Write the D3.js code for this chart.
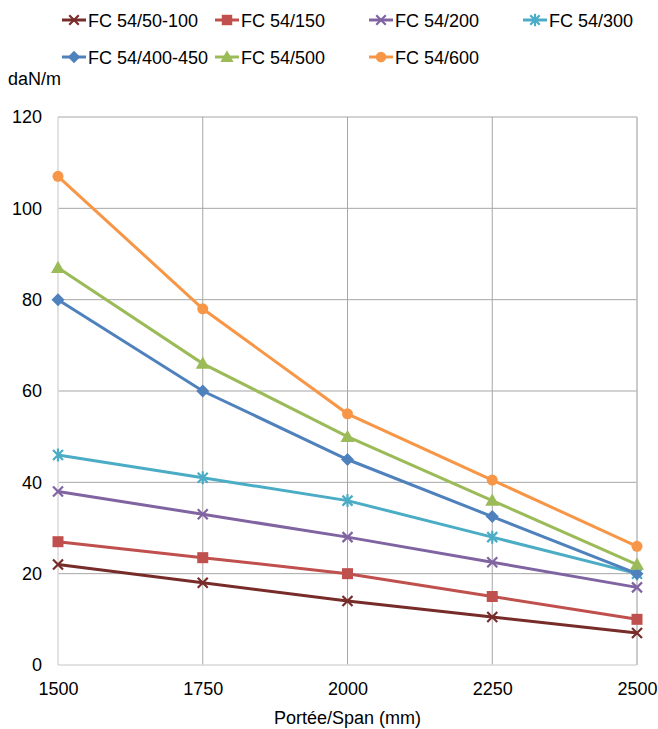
<!DOCTYPE html>
<html><head><meta charset="utf-8">
<script src="https://cdn.jsdelivr.net/npm/d3@7"></script>
<style>body{margin:0;background:#fff;} svg{display:block;font-family:"Liberation Sans",Arial,sans-serif;}</style>
</head><body><svg id="c" width="658" height="729"></svg>
<script>
const spans = [1500, 1750, 2000, 2250, 2500];
const seriesNames = ["FC 54/50-100","FC 54/150","FC 54/200","FC 54/300","FC 54/400-450","FC 54/500","FC 54/600"];
const v50_100 = [22, 18, 14, 10.5, 7];
const v150 = [27, 23.5, 20, 15, 10];
const v200 = [38, 33, 28, 22.5, 17];
const v300 = [46, 41, 36, 28, 20];
const v400_450 = [80, 60, 45, 32.5, 20];
const v500 = [87, 66, 50, 36, 22];
const v600 = [107, 78, 55, 40.5, 26];
const yTicks = [0, 20, 40, 60, 80, 100, 120];
const colors = ["#772C2A","#C0504D","#8064A2","#4BACC6","#4F81BD","#9BBB59","#F79646"];
const markers = ["x","square","x","star","diamond","triangle","circle"];
const allValues = [v50_100, v150, v200, v300, v400_450, v500, v600];

const FS = 18;
const svg = d3.select("#c");
const L = 58, R = 637, T = 117, B = 665;
const x = d3.scaleLinear().domain([1500, 2500]).range([L, R]);
const y = d3.scaleLinear().domain([0, 120]).range([B, T]);

// gridlines
svg.append("g").selectAll("line.h").data(yTicks.filter(d=>d>0)).join("line")
  .attr("x1", L).attr("x2", R).attr("y1", d=>y(d)).attr("y2", d=>y(d))
  .attr("stroke", "#a6a6a6").attr("stroke-width", 1);
svg.append("g").selectAll("line.v").data(spans.slice(1)).join("line")
  .attr("x1", d=>x(d)).attr("x2", d=>x(d)).attr("y1", T).attr("y2", B)
  .attr("stroke", "#a6a6a6").attr("stroke-width", 1);
// axis lines
svg.append("line").attr("x1", L).attr("x2", L).attr("y1", T).attr("y2", B).attr("stroke", "#d9d9d9").attr("stroke-width", 1.5);
svg.append("line").attr("x1", L).attr("x2", R).attr("y1", B).attr("y2", B).attr("stroke", "#d9d9d9").attr("stroke-width", 1.5);
svg.append("line").attr("x1", R).attr("x2", R).attr("y1", T).attr("y2", B).attr("stroke", "#c8c8c8").attr("stroke-width", 1.5);

// axes labels
const yAxis = d3.axisLeft(y).tickValues(yTicks).tickSize(0).tickPadding(16);
const gy = svg.append("g").attr("transform", `translate(${L},0)`).call(yAxis);
gy.select(".domain").remove();
gy.selectAll("text").attr("font-size", FS).attr("fill", "#000").attr("font-family", "Liberation Sans, Arial, sans-serif");
const xAxis = d3.axisBottom(x).tickValues(spans).tickSize(0).tickPadding(17).tickFormat(d3.format("d"));
const gx = svg.append("g").attr("transform", `translate(0,${B})`).call(xAxis);
gx.select(".domain").remove();
gx.selectAll("text").attr("font-size", FS).attr("fill", "#000").attr("font-family", "Liberation Sans, Arial, sans-serif");

svg.append("text").attr("x", 8).attr("y", 85).attr("font-size", FS).text("daN/m");
svg.append("text").attr("x", (L+R)/2).attr("y", 724).attr("text-anchor", "middle").attr("font-size", FS).text("Portée/Span (mm)");

function drawMarker(g, type, cx, cy, color, s) {
  s = s || 1;
  if (type === "x") {
    const r = 5*s;
    g.append("path").attr("d", `M${cx-r},${cy-r}L${cx+r},${cy+r}M${cx-r},${cy+r}L${cx+r},${cy-r}`)
      .attr("stroke", color).attr("stroke-width", 2.2).attr("fill", "none");
  } else if (type === "star") {
    const r = 5*s;
    g.append("path").attr("d", `M${cx-r},${cy-r}L${cx+r},${cy+r}M${cx-r},${cy+r}L${cx+r},${cy-r}M${cx},${cy-r*1.3}L${cx},${cy+r*1.3}`)
      .attr("stroke", color).attr("stroke-width", 2.2).attr("fill", "none");
  } else if (type === "square") {
    const r = 5.5*s;
    g.append("rect").attr("x", cx-r).attr("y", cy-r).attr("width", 2*r).attr("height", 2*r).attr("fill", color);
  } else if (type === "diamond") {
    const r = 6.5*s;
    g.append("path").attr("d", `M${cx},${cy-r}L${cx+r},${cy}L${cx},${cy+r}L${cx-r},${cy}Z`).attr("fill", color);
  } else if (type === "triangle") {
    const r = 7*s;
    g.append("path").attr("d", `M${cx},${cy-r}L${cx+r},${cy+r*0.75}L${cx-r},${cy+r*0.75}Z`).attr("fill", color);
  } else if (type === "circle") {
    g.append("circle").attr("cx", cx).attr("cy", cy).attr("r", 5.5*s).attr("fill", color);
  }
}

const line = d3.line().x((d,i)=>x(spans[i])).y(d=>y(d));
allValues.forEach((vals, si) => {
  const g = svg.append("g");
  g.append("path").datum(vals).attr("d", line).attr("fill", "none").attr("stroke", colors[si]).attr("stroke-width", 3);
  vals.forEach((v, i) => drawMarker(g, markers[si], x(spans[i]), y(v), colors[si]));
});

// legend
const legX = [62, 215, 369, 523];
const legY = [20, 57];
seriesNames.forEach((name, i) => {
  const col = i < 4 ? i : i - 4;
  const row = i < 4 ? 0 : 1;
  const lx = legX[col], ly = legY[row];
  const g = svg.append("g");
  g.append("line").attr("x1", lx).attr("x2", lx+24).attr("y1", ly).attr("y2", ly).attr("stroke", colors[i]).attr("stroke-width", 3);
  drawMarker(g, markers[i], lx+12, ly, colors[i], 0.95);
  g.append("text").attr("x", lx+26).attr("y", ly+6.5).attr("font-size", FS).text(name);
});
</script></body></html>
